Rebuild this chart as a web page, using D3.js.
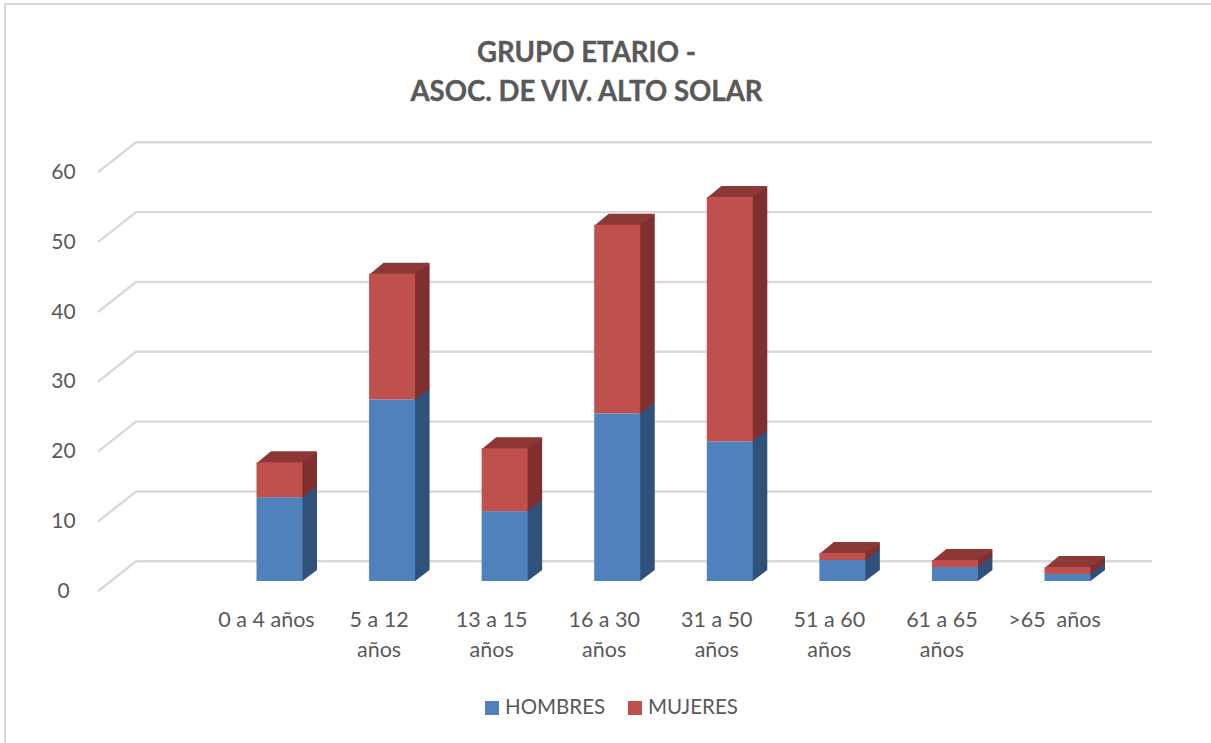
<!DOCTYPE html>
<html lang="es">
<head>
<meta charset="utf-8">
<script src="https://cdn.jsdelivr.net/npm/d3@7/dist/d3.min.js"></script>
<style>
  html, body { margin: 0; padding: 0; background: #fff; }
  svg { display: block; }
  text { font-family: Lato, "Open Sans", sans-serif; fill: #595959; }
</style>
</head>
<body>
<svg id="chart" width="1211" height="743"></svg>
<script>
// Grupo etario por sexo: columnas apiladas con perspectiva
const categories = ["0 a 4 años", "5 a 12 años", "13 a 15 años", "16 a 30 años",
                    "31 a 50 años", "51 a 60 años", "61 a 65 años", ">65  años"];
const categoryLines = [["0 a 4 años"], ["5 a 12", "años"], ["13 a 15", "años"], ["16 a 30", "años"],
                       ["31 a 50", "años"], ["51 a 60", "años"], ["61 a 65", "años"], [">65  años"]];
const hombres = [12, 26, 10, 24, 20, 3, 2, 1];
const mujeres = [5, 18, 9, 27, 35, 1, 1, 1];
const seriesNames = ["HOMBRES", "MUJERES"];
const yTicks = [0, 10, 20, 30, 40, 50, 60];
const titleLines = ["GRUPO ETARIO -", "ASOC. DE VIV. ALTO SOLAR"];

const palette = {
  HOMBRES: { front: "#4f81bd", side: "#30527a" },
  MUJERES: { front: "#c0504d", side: "#7e2f2e", top: "#8c3836" }
};

const svg = d3.select("#chart");

// Marco exterior del gráfico
svg.append("rect").attr("x", 5).attr("y", 4).attr("width", 1230).attr("height", 760)
  .attr("fill", "#fff").attr("stroke", "#d9d9d9").attr("stroke-width", 2);

// Escala sobre la pared del fondo; las otras capas se desplazan hacia el frente
const y = d3.scaleLinear().domain([0, 60]).range([561.3, 142.3]);
const x = d3.scalePoint().domain(categories).range([279.5, 1067.5]);

const wall = { left: 136, right: 1152, floorDx: -38, floorDy: 30 };
const bar = { width: 46, depthX: 14.5, depthY: 11, frontShift: 19.7 };
const yFront = v => y(v) + bar.frontShift;

// Líneas de división: pared del fondo y costado izquierdo
const grid = svg.append("g").attr("fill", "none").attr("stroke", "#d9d9d9");
grid.selectAll("path").data(yTicks).join("path")
  .attr("stroke-width", 2.4)
  .attr("d", d => d3.line()([
    [wall.left + wall.floorDx, y(d) + wall.floorDy],
    [wall.left, y(d)],
    [wall.right, y(d)]
  ]));

// Columnas apiladas: lateral y tapa quedan por debajo de la cara frontal
const bars = svg.append("g");
categories.forEach((cat, i) => {
  const xl = x(cat) - bar.width / 2;
  const xr = xl + bar.width;
  const total = hombres[i] + mujeres[i];
  const stack = [
    { name: seriesNames[0], v0: 0, v1: hombres[i] },
    { name: seriesNames[1], v0: hombres[i], v1: total }
  ];
  const g = bars.append("g");
  const topY = yFront(total);
  g.append("path").attr("fill", palette.MUJERES.top).attr("d", d3.line()([
    [xl, topY + 1], [xl + bar.depthX, topY - bar.depthY], [xr + bar.depthX, topY - bar.depthY], [xr, topY + 1]
  ]) + "Z");
  stack.forEach((s, k) => {
    const y0 = yFront(s.v0), y1 = yFront(s.v1), c = palette[s.name];
    // El tramo inferior se prolonga bajo el superior para que no quede una junta clara
    const overlap = k === 0 ? 1 : 0;
    g.append("path").attr("fill", c.side).attr("d", d3.line()([
      [xr - 1, y0], [xr, y0], [xr + bar.depthX, y0 - bar.depthY],
      [xr + bar.depthX, y1 - bar.depthY - overlap], [xr, y1 - overlap], [xr - 1, y1 - overlap]
    ]) + "Z");
  });
  stack.forEach(s => {
    const y0 = yFront(s.v0), y1 = yFront(s.v1);
    g.append("rect").attr("x", xl).attr("y", y1).attr("width", bar.width).attr("height", y0 - y1)
      .attr("fill", palette[s.name].front);
  });
});

// Rótulos del eje de valores
svg.append("g").selectAll("text").data(yTicks).join("text")
  .attr("x", 63.5).attr("y", d => y(d) + 29)
  .attr("dy", "0.36em").attr("text-anchor", "middle")
  .attr("font-size", 21).text(d => d);

// Rótulos de categorías, en una o dos líneas
const catLabels = svg.append("g").attr("font-size", 21.5).attr("text-anchor", "middle");
categories.forEach((cat, i) => {
  categoryLines[i].forEach((line, j) => {
    catLabels.append("text")
      .attr("x", x(cat) - 13)
      .attr("y", 627 + j * 29.5)
      .style("white-space", "pre")
      .attr("xml:space", "preserve")
      .text(line);
  });
});

// Título
svg.append("g").selectAll("text").data(titleLines).join("text")
  .attr("x", 586.5).attr("y", (d, i) => 62 + i * 38.5)
  .attr("text-anchor", "middle").attr("font-size", 27.6).attr("font-weight", 700)
  .style("stroke", "#595959").style("stroke-width", 0.35)
  .text(d => d);

// Leyenda
const legend = svg.append("g");
const legendX = [485, 628];
seriesNames.forEach((name, i) => {
  legend.append("rect").attr("x", legendX[i]).attr("y", 701).attr("width", 14).attr("height", 14)
    .attr("fill", palette[name].front);
  legend.append("text").attr("x", legendX[i] + 20).attr("y", 714)
    .attr("font-size", 20.5).text(name);
});
</script>
</body>
</html>
